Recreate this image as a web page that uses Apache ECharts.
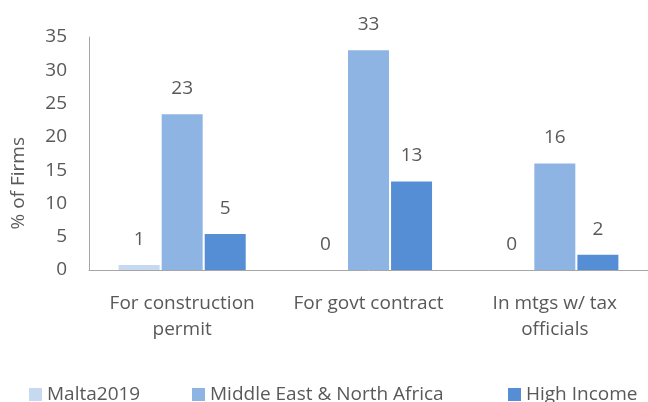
<!DOCTYPE html>
<html>
<head>
<meta charset="utf-8">
<script src="https://cdn.jsdelivr.net/npm/echarts@6/dist/echarts.min.js"></script>
<style>html,body{margin:0;padding:0;background:#fff}#c{width:648px;height:402px}</style>
</head>
<body>
<div id="c"></div>
<script>
var categories = ['For construction\npermit', 'For govt contract', 'In mtgs w/ tax\nofficials'];
var seriesNames = ['Malta2019', 'Middle East & North Africa', 'High Income'];
var malta2019 = [0.75, 0, 0];
var mena = [23.4, 33.0, 16.0];
var highIncome = [5.4, 13.3, 2.3];
var yTicks = [0, 5, 10, 15, 20, 25, 30, 35];

var FONT = 'Open Sans';
var TXT = '#595959';
var FS = 19;
function lbl() {
  return { show: true, position: 'top', distance: 16, color: TXT, fontSize: FS, fontFamily: FONT,
    formatter: function (p) { return Math.round(p.value); } };
}
var legendLefts = [24, 187, 503];
var legends = seriesNames.map(function (n, i) {
  return {
    left: legendLefts[i], top: 380, itemWidth: 13, itemHeight: 13, icon: 'rect',
    textStyle: { color: TXT, fontSize: FS, fontFamily: FONT },
    data: [n]
  };
});
var chart = echarts.init(document.getElementById('c'));
chart.setOption({
  animation: false,
  textStyle: { fontFamily: FONT },
  grid: { left: 89, right: 0, top: 37, bottom: 132, containLabel: false },
  legend: legends,
  graphic: [{
    type: 'text', left: 9, top: 137, rotation: Math.PI / 2,
    style: { text: '% of Firms', fill: TXT, fontSize: FS, fontFamily: FONT }
  }],
  xAxis: {
    type: 'category', data: categories,
    axisLine: { lineStyle: { color: '#a6a6a6', width: 1 } },
    axisTick: { show: false },
    axisLabel: { color: TXT, fontSize: FS, fontFamily: FONT, lineHeight: 26, margin: 21, interval: 0 }
  },
  yAxis: {
    type: 'value', min: 0, max: 35, interval: 5,
    axisLine: { show: true, lineStyle: { color: '#a6a6a6', width: 1 } },
    axisTick: { show: false },
    splitLine: { show: false },
    axisLabel: { color: TXT, fontSize: FS, fontFamily: FONT, margin: 22,
      formatter: function (v) { return yTicks.indexOf(v) >= 0 ? String(v) : ''; } }
  },
  series: [
    { name: seriesNames[0], type: 'bar', data: malta2019, barWidth: 41, barGap: '5%',
      itemStyle: { color: '#C6D9F1' }, label: lbl() },
    { name: seriesNames[1], type: 'bar', data: mena, barWidth: 41, barGap: '5%',
      itemStyle: { color: '#8EB4E3' }, label: lbl() },
    { name: seriesNames[2], type: 'bar', data: highIncome, barWidth: 41, barGap: '5%',
      itemStyle: { color: '#558ED5' }, label: lbl() }
  ]
});
</script>
</body>
</html>
